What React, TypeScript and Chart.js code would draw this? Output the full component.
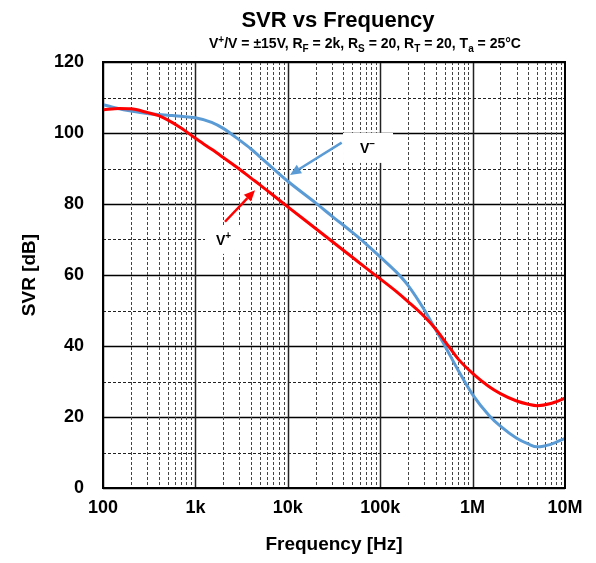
import { useEffect, useRef } from "react";
import { Chart, registerables } from "chart.js";

Chart.register(...registerables);

const FONT = "'Liberation Sans', Arial, Helvetica, sans-serif";

const FREQ = [100, 150, 200, 300, 400, 500, 700, 1e3, 1.5e3, 2e3, 3e3, 4e3, 5e3, 7e3, 1e4, 2e4, 3e4, 5e4, 7e4, 1e5, 1.5e5, 2e5, 3e5, 4e5, 5e5, 7e5, 1e6, 1.5e6, 2e6, 3e6, 4e6, 5e6, 7e6, 1e7];
const V_PLUS = [106.5, 106.9, 106.8, 105.8, 104.9, 103.7, 101.4, 98.5, 95.4, 93.1, 89.8, 87.3, 85.4, 82.4, 79.2, 73.1, 69.5, 65, 62, 58.9, 55.3, 52.5, 48.3, 44.7, 41.4, 36.3, 32.3, 28.6, 26.6, 24.5, 23.6, 23.2, 23.8, 25.3];
const V_MINUS = [108, 106.8, 106.2, 105.5, 105.2, 105, 104.7, 104.3, 103, 101.3, 98, 95.5, 93.3, 89.9, 86.4, 80.3, 76.6, 72, 68.8, 65.1, 60.8, 57.1, 50.2, 44.5, 40.1, 33.1, 26.3, 20.5, 17.4, 14, 12.4, 11.6, 12.3, 14];

const X_TICKS = [100, 1e3, 1e4, 1e5, 1e6, 1e7];
const X_LABELS = ["100", "1k", "10k", "100k", "1M", "10M"];
const Y_GRID = [0, 10, 20, 30, 40, 50, 60, 70, 80, 90, 100, 110, 120];

const TITLE = "SVR vs Frequency";
type Seg = { t: string; sub?: boolean; sup?: boolean };
const SUBTITLE: Seg[] = [
  { t: "V" }, { t: "+", sup: true }, { t: "/V = ±15V, R" }, { t: "F", sub: true },
  { t: " = 2k, R" }, { t: "S", sub: true }, { t: " = 20, R" }, { t: "T", sub: true },
  { t: " = 20, T" }, { t: "a", sub: true }, { t: " = 25°C" },
];

// annotation anchors in data coordinates [freq, dB]
const MINUS_LABEL = [72000, 95.8];
const MINUS_ARROW = [[38300, 97.3], [10570, 88.2]];
const PLUS_LABEL = [1990, 69.9];
const PLUS_ARROW = [[2090, 75], [4420, 83.9]];

const RED = "#FF0000";
const BLUE = "#5B9BD5";

function drawRich(ctx: CanvasRenderingContext2D, segs: Seg[], cx: number, base: number, size: number) {
  const small = Math.round(size * 0.68);
  const fontFor = (s: Seg) => `bold ${s.sub || s.sup ? small : size}px ${FONT}`;
  let w = 0;
  for (const s of segs) { ctx.font = fontFor(s); w += ctx.measureText(s.t).width; }
  let x = cx - w / 2;
  ctx.textAlign = "left";
  ctx.textBaseline = "alphabetic";
  for (const s of segs) {
    ctx.font = fontFor(s);
    const dy = s.sub ? size * 0.28 : s.sup ? -size * 0.38 : 0;
    ctx.fillText(s.t, x, base + dy);
    x += ctx.measureText(s.t).width;
  }
}

function arrow(ctx: CanvasRenderingContext2D, x1: number, y1: number, x2: number, y2: number, color: string) {
  const ang = Math.atan2(y2 - y1, x2 - x1);
  const hl = 11, hw = 5;
  const bx = x2 - hl * Math.cos(ang), by = y2 - hl * Math.sin(ang);
  ctx.strokeStyle = color;
  ctx.fillStyle = color;
  ctx.lineWidth = 2.5;
  ctx.setLineDash([]);
  ctx.beginPath();
  ctx.moveTo(x1, y1);
  ctx.lineTo(bx, by);
  ctx.stroke();
  ctx.beginPath();
  ctx.moveTo(x2, y2);
  ctx.lineTo(bx + hw * Math.sin(ang), by - hw * Math.cos(ang));
  ctx.lineTo(bx - hw * Math.sin(ang), by + hw * Math.cos(ang));
  ctx.closePath();
  ctx.fill();
}

const gridPlugin = {
  id: "customGrid",
  beforeDatasetsDraw(chart: any) {
    const { ctx, chartArea: { left, right, top, bottom }, scales: { x, y } } = chart;
    ctx.save();
    for (const v of Y_GRID) {
      const py = Math.round(y.getPixelForValue(v)) + 0.5;
      const major = v % 20 === 0;
      ctx.setLineDash(major ? [] : [3, 2]);
      ctx.lineWidth = major ? 1.5 : 1;
      ctx.strokeStyle = major ? "#000" : "#222";
      ctx.beginPath(); ctx.moveTo(left, py); ctx.lineTo(right, py); ctx.stroke();
    }
    for (let d = 0; d < X_TICKS.length - 1; d++) {
      for (let m = 1; m <= 9; m++) {
        const v = X_TICKS[d] * m;
        const px = Math.round(x.getPixelForValue(v)) + 0.5;
        const major = m === 1;
        ctx.setLineDash(major ? [] : [3, 2]);
        ctx.lineWidth = major ? 1.5 : 1;
        ctx.strokeStyle = major ? "#222" : "#444";
        ctx.beginPath(); ctx.moveTo(px, top); ctx.lineTo(px, bottom); ctx.stroke();
      }
    }
    ctx.restore();
  },
  afterDatasetsDraw(chart: any) {
    const { ctx, chartArea: { left, right, top, bottom }, scales: { x, y } } = chart;
    ctx.save();
    ctx.setLineDash([]);
    ctx.strokeStyle = "#000";
    ctx.lineWidth = 2;
    ctx.strokeRect(left, top, right - left, bottom - top);

    const P = (p: number[]) => [x.getPixelForValue(p[0]), y.getPixelForValue(p[1])];
    const [mx, my] = P(MINUS_LABEL);
    ctx.fillStyle = "#fff";
    ctx.fillRect(mx - 24, my - 15, 50, 30);
    const [pxl, pyl] = P(PLUS_LABEL);
    ctx.fillRect(pxl - 18, pyl - 14, 38, 28);
    ctx.fillStyle = "#000";
    ctx.textBaseline = "alphabetic";
    ctx.textAlign = "left";
    ctx.font = `bold 14px ${FONT}`;
    const wv = ctx.measureText("V").width;
    ctx.fillText("V", mx - 7, my + 5);
    ctx.font = `bold 10px ${FONT}`;
    ctx.fillText("−", mx - 7 + wv, my - 1);
    ctx.font = `bold 14px ${FONT}`;
    ctx.fillText("V", pxl - 7, pyl + 5);
    ctx.font = `bold 10px ${FONT}`;
    ctx.fillText("+", pxl - 7 + wv, pyl - 1);

    const a = P(MINUS_ARROW[0]), b = P(MINUS_ARROW[1]);
    arrow(ctx, a[0], a[1], b[0], b[1], BLUE);
    const c = P(PLUS_ARROW[0]), e = P(PLUS_ARROW[1]);
    arrow(ctx, c[0], c[1], e[0], e[1], RED);

    ctx.fillStyle = "#000";
    ctx.font = `bold 22px ${FONT}`;
    ctx.textAlign = "center";
    ctx.fillText(TITLE, 338, 27);
    drawRich(ctx, SUBTITLE, 365, 48, 14);
    ctx.restore();
  },
};

export default function App() {
  const ref = useRef<HTMLCanvasElement>(null);
  useEffect(() => {
    const chart = new Chart(ref.current!, {
      type: "line",
      data: {
        datasets: [
          {
            label: "V+",
            data: FREQ.map((f, i) => ({ x: f, y: V_PLUS[i] })),
            borderColor: RED,
            borderWidth: 3,
            pointRadius: 0,
            cubicInterpolationMode: "monotone",
          },
          {
            label: "V-",
            data: FREQ.map((f, i) => ({ x: f, y: V_MINUS[i] })),
            borderColor: BLUE,
            borderWidth: 3,
            pointRadius: 0,
            cubicInterpolationMode: "monotone",
          },
        ],
      },
      options: {
        animation: false,
        responsive: true,
        maintainAspectRatio: false,
        layout: { padding: { top: 62, right: 31, left: 0, bottom: 0 } },
        plugins: { legend: { display: false }, tooltip: { enabled: false }, title: { display: false } },
        scales: {
          x: {
            type: "logarithmic",
            min: 100,
            max: 1e7,
            grid: { display: false, drawTicks: false },
            border: { display: false },
            afterBuildTicks: (s: any) => { s.ticks = X_TICKS.map((v) => ({ value: v })); },
            afterFit: (s: any) => { s.height = 75; },
            ticks: {
              autoSkip: false,
              maxRotation: 0,
              padding: 9,
              color: "#000",
              font: { family: FONT, size: 18, weight: "bold" },
              callback: (v: any) => { const i = X_TICKS.indexOf(Number(v)); return i >= 0 ? X_LABELS[i] : ""; },
            },
            title: {
              display: true,
              text: "Frequency [Hz]",
              color: "#000",
              font: { family: FONT, size: 19, weight: "bold" },
              padding: { top: 0, bottom: 7 },
            },
          },
          y: {
            min: 0,
            max: 120,
            grid: { display: false, drawTicks: false },
            border: { display: false },
            afterFit: (s: any) => { s.width = 103; },
            ticks: {
              stepSize: 20,
              padding: 19,
              color: "#000",
              font: { family: FONT, size: 18, weight: "bold" },
            },
            title: {
              display: true,
              text: "SVR [dB]",
              color: "#000",
              font: { family: FONT, size: 19, weight: "bold" },
              padding: { top: 18, bottom: 0 },
            },
          },
        },
      },
      plugins: [gridPlugin],
    } as any);
    return () => chart.destroy();
  }, []);
  return (
    <div style={{ position: "fixed", left: 0, top: 0, width: 596, height: 563, background: "#fff" }}>
      <canvas ref={ref} />
    </div>
  );
}
